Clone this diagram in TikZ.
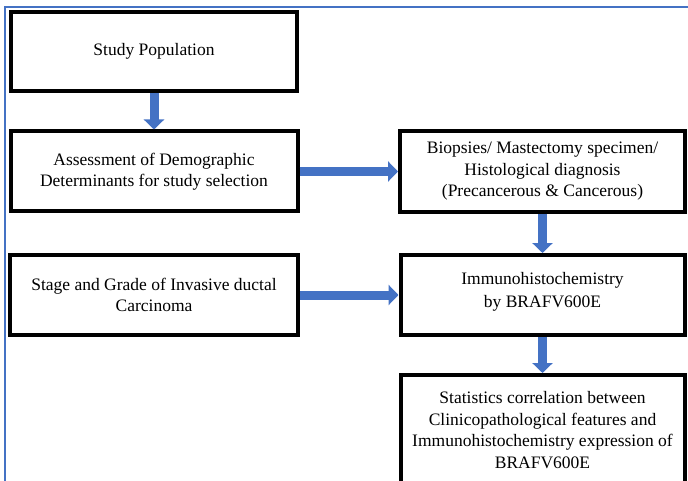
\documentclass[tikz,border=0pt]{standalone}
\usepackage{fontspec}
\setmainfont{Liberation Serif}
\usetikzlibrary{arrows.meta}
\definecolor{flowblue}{HTML}{4472C4}
\tikzset{
  flow/.style={-{Triangle[width=20pt,length=10pt]},line width=9pt,flowblue},
  boxtext/.style={align=center,inner sep=0pt,font=\fontsize{17.5}{21.5}\selectfont}
}
\begin{document}
\begin{tikzpicture}[x=1pt,y=-1pt]
            \useasboundingbox (0,0) rectangle (688,481);
            \draw[flowblue,line width=1.5pt] (5,481) |- (688,7);

            \begin{scope}[every node/.style={draw,line width=4pt,boxtext}]
                \node[minimum width=286pt,minimum height=79pt] (pop) at (154,51.5) {Study Population};
                \node[minimum width=287pt,minimum height=80pt] (assess) at (154,171.5) {Assessment of Demographic\\Determinants for study selection};
                \node[minimum width=285pt,minimum height=81pt] (biopsy) at (542.5,171.5) {Biopsies/ Mastectomy specimen/\\Histological diagnosis\\(Precancerous \& Cancerous)};
                \node[minimum width=288pt,minimum height=80pt] (stage) at (154,295) {Stage and Grade of Invasive ductal\\Carcinoma};
                \node[minimum width=284pt,minimum height=80pt,text depth=10pt] (ihc) at (542.5,295) {Immunohistochemistry\\[1pt]by BRAFV600E};
                \node[minimum width=284pt,minimum height=140pt,anchor=north] (stats) at (542.5,373) {};
            \end{scope}
            \node[boxtext] (statstext) at (542.5,430) {Statistics correlation between\\Clinicopathological features and\\Immunohistochemistry expression of\\BRAFV600E};

            \begin{scope}
                \path [flow] (pop) edge (assess)
                             (assess) edge (biopsy)
                             (stage) edge (ihc)
                             (biopsy) edge (ihc)
                             (ihc) edge (stats);
            \end{scope}
\end{tikzpicture}
\end{document}
